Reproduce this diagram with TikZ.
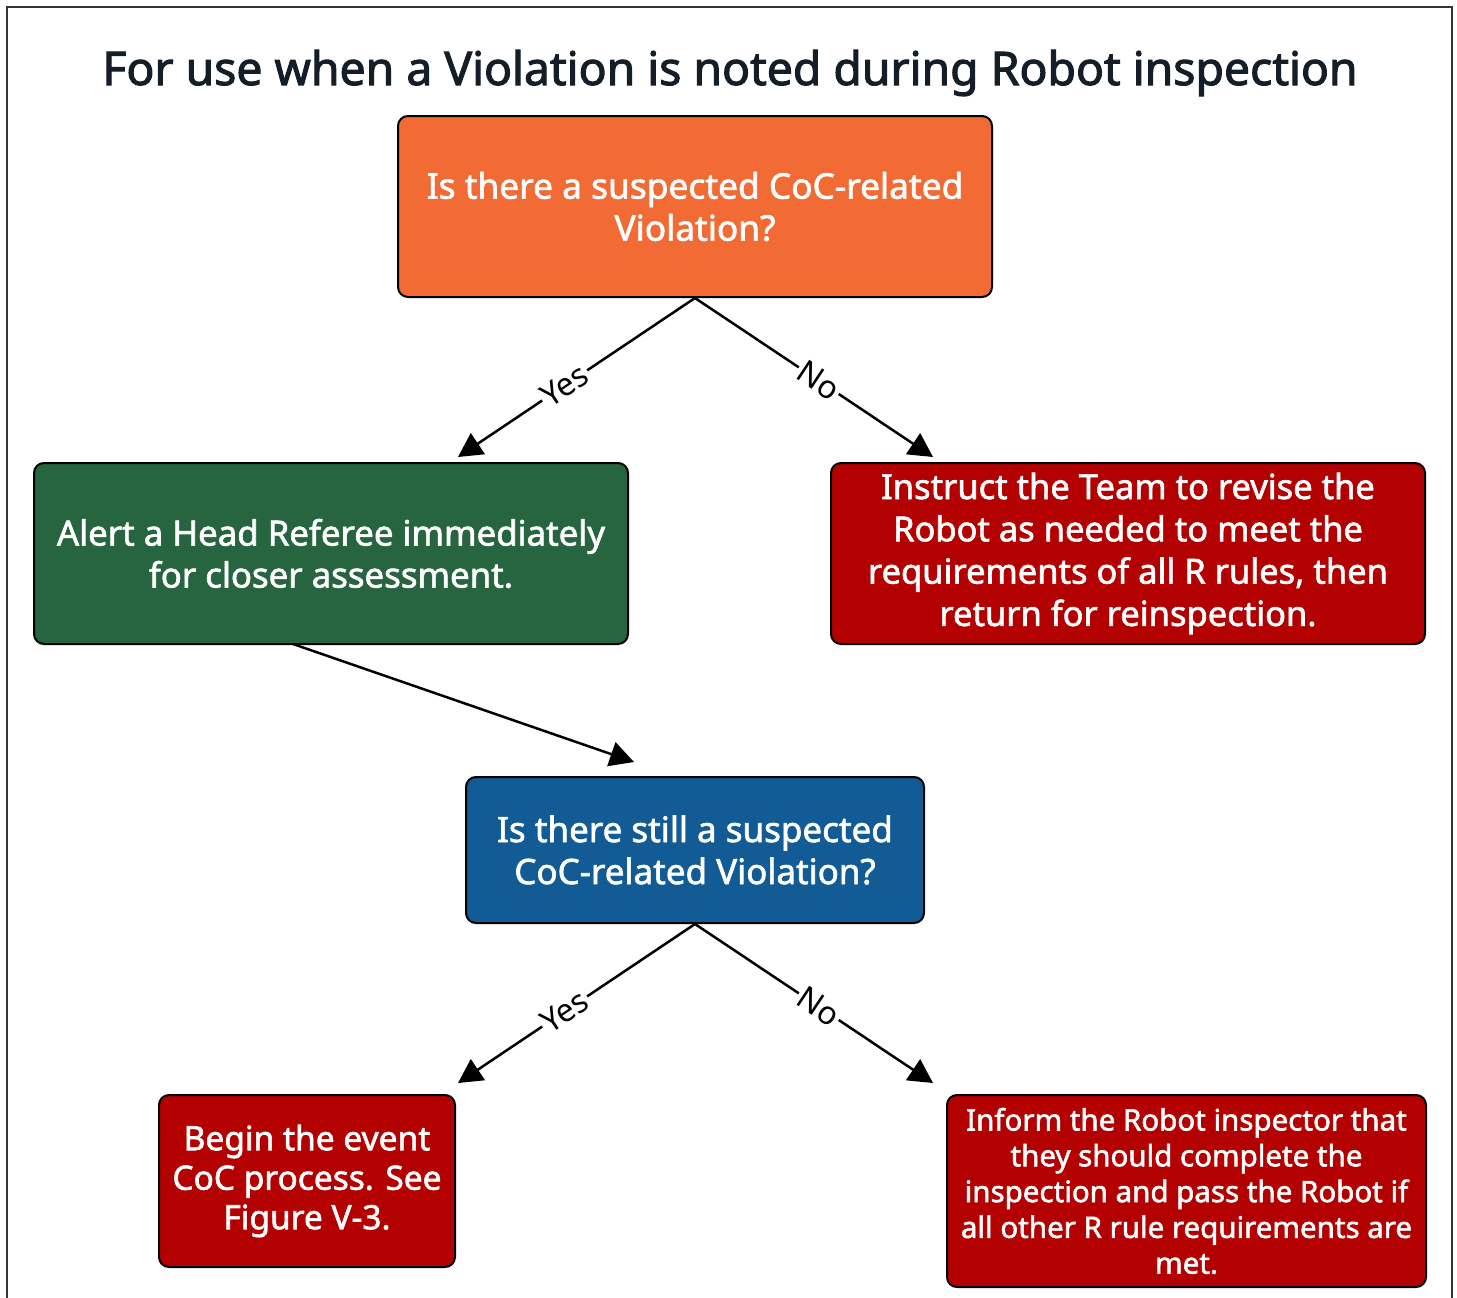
\documentclass[tikz,border=0pt]{standalone}
\usepackage{fontspec}
\setmainfont{Noto Sans}
\newfontfamily\boxfont{Noto Sans}[FakeBold=1.8]
\newfontfamily\titlefont{Noto Sans}[FakeBold=2.2]
\usetikzlibrary{arrows.meta}
\definecolor{titlec}{HTML}{141E28}
\definecolor{orangec}{HTML}{F26B35}
\definecolor{greenc}{HTML}{276440}
\definecolor{redc}{HTML}{B30000}
\definecolor{bluec}{HTML}{135B94}
\definecolor{framec}{HTML}{333333}
\tikzset{
  x=1pt, y=-1pt,
  box/.style={draw=black, line width=2pt, rounded corners=10pt, text=white, align=center, inner sep=0pt},
  conn/.style={line width=2.5pt, -{Triangle[length=24pt,width=25pt]}},
  lab/.style={fill=white, sloped, inner sep=2pt, font=\fontsize{32}{32}\selectfont, text=black},
}
\begin{document}
\begin{tikzpicture}
\useasboundingbox (0,0) rectangle (1457,1298);
\draw[framec, line width=2.5pt] (7,1310) -- (7,7) -- (1452,7) -- (1452,1310);
\node[text=titlec, font=\titlefont\fontsize{46.3}{46}\selectfont] (title) at (730,73) {For use when a Violation is noted during Robot inspection};

\node[box, fill=orangec, minimum width=594pt, minimum height=181pt, font=\boxfont\fontsize{35.3}{42}\selectfont] (q1) at (695,206.5) {Is there a suspected CoC-related\\Violation?};
\node[box, fill=greenc, minimum width=594pt, minimum height=181pt, font=\boxfont\fontsize{34.8}{42}\selectfont] (alert) at (331,553.5) {Alert a Head Referee immediately\\for closer assessment.};
\node[box, fill=redc, minimum width=594pt, minimum height=181pt, font=\boxfont\fontsize{34.5}{42.3}\selectfont] (revise) at (1128,553.5) {Instruct the Team to revise the\\Robot as needed to meet the\\requirements of all R rules, then\\return for reinspection.};
\node[box, fill=bluec, minimum width=458pt, minimum height=146pt, font=\boxfont\fontsize{35}{42}\selectfont] (q2) at (695,850) {Is there still a suspected\\CoC-related Violation?};
\node[box, fill=redc, minimum width=296pt, minimum height=172pt, font=\boxfont\fontsize{33.5}{39.5}\selectfont] (coc) at (307,1181) {Begin the event\\CoC process. See\\Figure V-3.};
\node[box, fill=redc, minimum width=479pt, minimum height=192pt, font=\boxfont\fontsize{29.5}{35.8}\selectfont] (inform) at (1186.5,1191) {Inform the Robot inspector that\\they should complete the\\inspection and pass the Robot if\\all other R rule requirements are\\met.};

\coordinate (e1) at (458,457);
\coordinate (e2) at (933,457);
\coordinate (s3) at (293,644);
\coordinate (e3) at (634,762);
\coordinate (e4) at (458,1083);
\coordinate (e5) at (933,1083);

\draw[conn] (q1.south) -- node[lab, pos=0.55] (ly1) {Yes} (e1);
\draw[conn] (q1.south) -- node[lab, pos=0.52] (ln1) {No} (e2);
\draw[conn] (s3) -- (e3);
\draw[conn] (q2.south) -- node[lab, pos=0.55] (ly2) {Yes} (e4);
\draw[conn] (q2.south) -- node[lab, pos=0.52] (ln2) {No} (e5);
\end{tikzpicture}
\end{document}
